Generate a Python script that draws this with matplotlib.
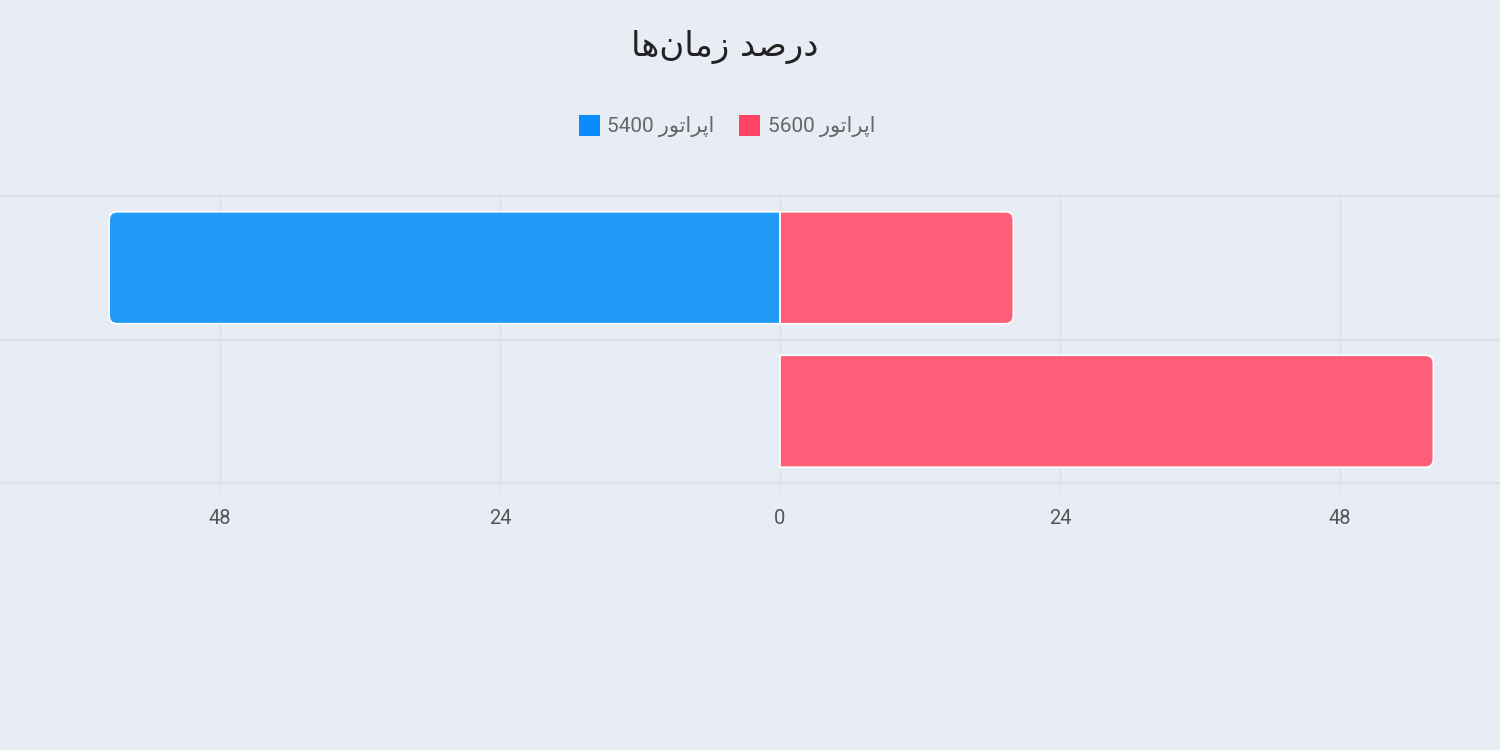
import matplotlib
matplotlib.use("Agg")
import matplotlib.pyplot as plt
from matplotlib.path import Path
from matplotlib.patches import PathPatch, Patch

# ---- data ----
categories = ["A", "B"]
series_names = ["اپراتور 5400", "اپراتور 5600"]
blue_values = [57.5, 0]      # operator 5400 (drawn to the left)
red_values = [20, 56]        # operator 5600 (drawn to the right)
tick_values = [-48, -24, 0, 24, 48]
tick_labels = ["48", "24", "0", "24", "48"]
title_text = "درصد زمان‌ها"

# visual (shaped, left-to-right) forms of the Persian strings for rendering
title_visual = "\uFE8E\uFEEB\uFEE5\uFE8E\uFEE3\uFEAF \uFEAA\uFEBB\uFEAD\uFEA9"
operator_visual = "\uFEAD\uFEEE\uFE97\uFE8D\uFEAE\uFB58\uFE8D"
legend_visual = ["5400 " + operator_visual, "5600 " + operator_visual]

BG = "#E8ECF4"
GRID = "#DCE0E9"
BLUE = "#219BF8"
RED = "#FF5E78"
BLUE_L = "#0A8CFF"
RED_L = "#FF4362"

fig = plt.figure(figsize=(15, 7.5), dpi=100, facecolor=BG)
ax = fig.add_axes([0.0, 1 - 483 / 750, 1.0, (483 - 196) / 750])
ax.set_facecolor(BG)

unit = 280 / 24.0
ax.set_xlim(-780 / unit, 720 / unit)
ax.set_ylim(1.5, -0.5)

ypos = list(range(len(categories)))
bar_h = 0.78
neg_blue = [-v for v in blue_values]
bars_b = ax.barh(ypos, neg_blue, height=bar_h, color=BLUE)
bars_r = ax.barh(ypos, red_values, height=bar_h, color=RED)

# rounded outer corners
p0, p1 = ax.transData.transform([(0, 0), (1, 1)])
px_x = abs(p1[0] - p0[0])
px_y = abs(p1[1] - p0[1])
r_px = 8
rx, ry = r_px / px_x, r_px / px_y


def rounded(rect, color, round_left, round_right):
    x0 = min(rect.get_x(), rect.get_x() + rect.get_width())
    x1 = max(rect.get_x(), rect.get_x() + rect.get_width())
    y0 = rect.get_y()
    y1 = y0 + rect.get_height()
    if x1 - x0 <= 0:
        rect.set_visible(False)
        return
    L = rx if round_left else 0
    R = rx if round_right else 0
    LY = ry if round_left else 0
    RY = ry if round_right else 0
    verts = [(x0 + L, y0), (x1 - R, y0)]
    codes = [Path.MOVETO, Path.LINETO]
    if round_right:
        verts += [(x1, y0), (x1, y0 + RY)]
        codes += [Path.CURVE3, Path.CURVE3]
    verts += [(x1, y1 - RY)]
    codes += [Path.LINETO]
    if round_right:
        verts += [(x1, y1), (x1 - R, y1)]
        codes += [Path.CURVE3, Path.CURVE3]
    verts += [(x0 + L, y1)]
    codes += [Path.LINETO]
    if round_left:
        verts += [(x0, y1), (x0, y1 - LY)]
        codes += [Path.CURVE3, Path.CURVE3]
    verts += [(x0, y0 + LY)]
    codes += [Path.LINETO]
    if round_left:
        verts += [(x0, y0), (x0 + L, y0)]
        codes += [Path.CURVE3, Path.CURVE3]
    verts += [(x0 + L, y0)]
    codes += [Path.CLOSEPOLY]
    patch = PathPatch(Path(verts, codes), facecolor=color, edgecolor="white",
                      linewidth=1.2, zorder=3)
    ax.add_patch(patch)
    rect.set_visible(False)


for rb in bars_b:
    rounded(rb, BLUE, True, False)
for rr in bars_r:
    rounded(rr, RED, False, True)

# grid
ax.set_xticks(tick_values)
ax.set_xticklabels(tick_labels, fontsize=14.5, color="#555555", family=["Roboto", "DejaVu Sans"])
ax.set_yticks([])
ax.grid(axis="x", color=GRID, linewidth=1.0, zorder=0)
ax.set_axisbelow(True)
for yb in [0.5]:
    ax.axhline(yb, color=GRID, linewidth=1.6, zorder=0)
for sp in ["left", "right"]:
    ax.spines[sp].set_visible(False)
ax.spines["top"].set_color(GRID)
ax.spines["bottom"].set_color(GRID)
ax.spines["top"].set_linewidth(1.6)
ax.spines["bottom"].set_linewidth(1.6)
ax.tick_params(axis="x", length=7, width=1.0, color=GRID, pad=12)

# title
fig.text(725 / 1500, 1 - 47 / 750, title_visual, ha="center", va="center",
         fontsize=24.5, color="#222222", family=["DejaVu Sans"])

# legend
handles = [Patch(facecolor=BLUE_L, edgecolor="none"), Patch(facecolor=RED_L, edgecolor="none")]
fig.legend(handles, legend_visual, loc="center", bbox_to_anchor=(727 / 1500, 1 - 126 / 750),
           ncol=2, frameon=False, prop={"family": ["Roboto", "DejaVu Sans"], "size": 15},
           labelcolor="#666666", handlelength=1.0, handleheight=1.2, handletextpad=0.35,
           columnspacing=1.2)

fig.savefig("out.png", dpi=100, facecolor=BG)
